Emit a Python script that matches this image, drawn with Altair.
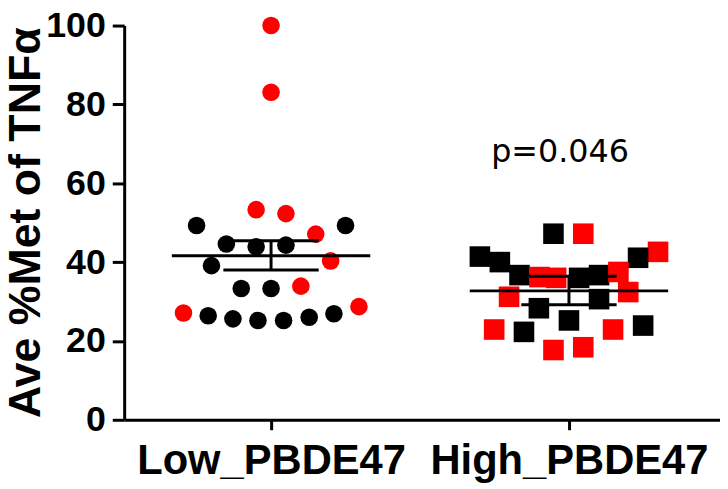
import altair as alt
import pandas as pd

groups = ["Low_PBDE47", "High_PBDE47"]

# Low_PBDE47 (circles): value, horizontal swarm offset (group widths), colour
low_values = [100.0, 83.1, 53.3, 52.3, 49.3, 49.3, 47.1, 44.6, 43.9, 44.3, 39.1, 40.3,
              33.3, 33.3, 33.9, 27.1, 26.4, 25.6, 25.2, 25.2, 26.0, 26.9, 28.7]
low_offsets = [0.0, 0.0, -0.05, 0.05, -0.25, 0.25, 0.15, -0.15, -0.05, 0.05, -0.2, 0.2,
               -0.1, 0.0, 0.1, -0.294, -0.211, -0.128, -0.044, 0.042, 0.128, 0.211, 0.295]
low_colors = ["red", "red", "red", "red", "black", "black", "red", "black", "black", "black",
              "black", "red", "black", "black", "red", "red", "black", "black", "black",
              "black", "black", "black", "red"]

# High_PBDE47 (squares)
high_values = [47.2, 47.2, 41.4, 40.0, 42.6, 41.1, 36.7, 36.2, 36.0, 36.0, 36.7, 37.5,
               31.2, 32.4, 28.3, 30.6, 25.2, 22.9, 22.3, 22.9, 23.9, 17.7, 18.4]
high_offsets = [-0.052, 0.048, -0.299, -0.232, 0.299, 0.232, -0.166, -0.099, -0.043, 0.034,
                0.101, 0.166, -0.201, 0.199, -0.101, 0.101, 0.0, -0.251, -0.151, 0.148,
                0.249, -0.052, 0.048]
high_colors = ["black", "red", "black", "black", "red", "black", "black", "red", "red",
               "black", "black", "red", "red", "red", "black", "black", "black", "red",
               "black", "red", "black", "red", "red"]

# mean and error bar ends
means = [41.6, 32.7]
err_low = [38.0, 29.2]
err_high = [45.4, 36.4]

p_text = "p=0.046"
p_value_y = 65.5

rows = []
for g, vals, offs, cols in [(groups[0], low_values, low_offsets, low_colors),
                            (groups[1], high_values, high_offsets, high_colors)]:
    gi = groups.index(g) + 1
    for v, o, c in zip(vals, offs, cols):
        rows.append({"group": g, "value": v, "x": gi + o, "color": c})
points = pd.DataFrame(rows)

summary = pd.DataFrame({
    "group": groups,
    "pos": [groups.index(g) + 1 for g in groups],
    "mean": means,
    "lo": err_low,
    "hi": err_high,
})

ann = pd.DataFrame({"pos": [2], "value": [p_value_y], "label": [p_text]})

label_expr = " : ".join(
    [f"datum.value == {i + 1} ? '{g}'" for i, g in enumerate(groups)] + ["''"]
)

xscale = alt.Scale(domain=[0.507, 2.507], nice=False, zero=False)
yscale = alt.Scale(domain=[0, 100], nice=False, zero=True)

xaxis = alt.Axis(
    title=None, values=[1, 2], labelExpr=label_expr, grid=False,
    domainColor="black", domainWidth=3, tickColor="black", tickWidth=3, tickSize=10,
    labelFont="Liberation Sans", labelFontSize=42, labelFontWeight="bold",
    labelColor="black", labelPadding=11, labelBaseline="top", labelFlush=False,
    labelOverlap=False, labelLimit=0,
)
yaxis = alt.Axis(
    title="Ave %Met of TNFα", values=[0, 20, 40, 60, 80, 100], grid=False,
    domainColor="black", domainWidth=3, tickColor="black", tickWidth=3, tickSize=12,
    labelFont="Liberation Sans", labelFontSize=36, labelFontWeight="bold",
    labelColor="black", labelPadding=7, labelFlush=False, labelOverlap=False,
    labelLimit=0,
    titleFont="Liberation Sans", titleFontSize=45, titleFontWeight="bold",
    titleColor="black", titleAngle=270, titleAlign="center", titleBaseline="alphabetic",
    titleX=-85, titleY=198, titleLimit=0,
)

color_enc = alt.Color("color:N", scale=alt.Scale(domain=["red", "black"],
                                                 range=["#ff0000", "#000000"]), legend=None)

low_layer = alt.Chart(points).transform_filter(
    alt.datum.group == groups[0]
).mark_circle(size=314, opacity=1).encode(
    x=alt.X("x:Q", scale=xscale, axis=xaxis),
    y=alt.Y("value:Q", scale=yscale, axis=yaxis),
    color=color_enc,
)

high_layer = alt.Chart(points).transform_filter(
    alt.datum.group == groups[1]
).mark_square(size=430, opacity=1).encode(
    x=alt.X("x:Q", scale=xscale, axis=xaxis),
    y=alt.Y("value:Q", scale=yscale, axis=yaxis),
    color=color_enc,
)

base = alt.Chart(summary)

mean_rule = base.transform_calculate(
    xa="datum.pos - 0.333", xb="datum.pos + 0.333"
).mark_rule(color="black", strokeWidth=3).encode(
    x=alt.X("xa:Q", scale=xscale, axis=xaxis), x2="xb:Q",
    y=alt.Y("mean:Q", scale=yscale, axis=yaxis),
)

cap_hi = base.transform_calculate(
    xa="datum.pos - 0.16", xb="datum.pos + 0.16"
).mark_rule(color="black", strokeWidth=3).encode(
    x=alt.X("xa:Q", scale=xscale, axis=xaxis), x2="xb:Q",
    y=alt.Y("hi:Q", scale=yscale, axis=yaxis),
)

cap_lo = base.transform_calculate(
    xa="datum.pos - 0.16", xb="datum.pos + 0.16"
).mark_rule(color="black", strokeWidth=3).encode(
    x=alt.X("xa:Q", scale=xscale, axis=xaxis), x2="xb:Q",
    y=alt.Y("lo:Q", scale=yscale, axis=yaxis),
)

stem = base.mark_rule(color="black", strokeWidth=3).encode(
    x=alt.X("pos:Q", scale=xscale, axis=xaxis),
    y=alt.Y("lo:Q", scale=yscale, axis=yaxis), y2="hi:Q",
)

p_label = alt.Chart(ann).mark_text(
    font="DejaVu Sans", fontSize=32, color="black", align="center",
    baseline="alphabetic", dx=-9,
).encode(
    x=alt.X("pos:Q", scale=xscale, axis=xaxis),
    y=alt.Y("value:Q", scale=yscale, axis=yaxis),
    text="label:N",
)

chart = alt.layer(
    low_layer, high_layer, mean_rule, cap_hi, cap_lo, stem, p_label
).properties(
    width=600, height=397,
    autosize=alt.AutoSizeParams(type="none"),
    padding={"left": 117, "top": 16, "right": 0, "bottom": 66},
).configure_view(stroke=None)

chart.save("out.html", embed_options={"renderer": "svg", "actions": False})
